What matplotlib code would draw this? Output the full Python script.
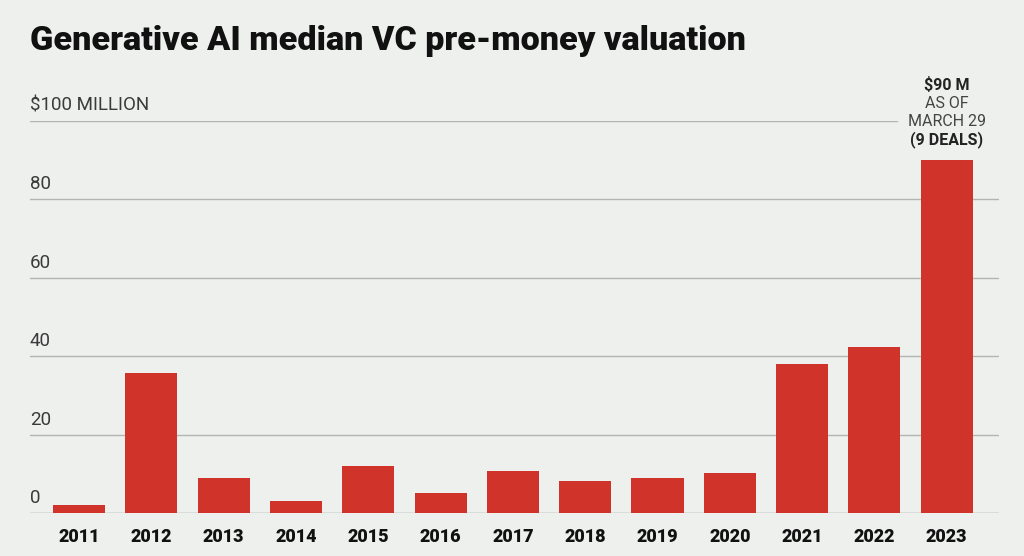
import matplotlib
matplotlib.use('Agg')
import matplotlib.pyplot as plt

# Data (US$ millions)
years = ['2011', '2012', '2013', '2014', '2015', '2016', '2017',
         '2018', '2019', '2020', '2021', '2022', '2023']
valuations = [2.0, 35.6, 9.0, 3.0, 12.0, 5.0, 10.7, 8.2, 9.0, 10.1, 37.9, 42.4, 90.0]
y_ticks = [0, 20, 40, 60, 80, 100]
y_tick_labels = ['0', '20', '40', '60', '80', '$100 MILLION']

BG = '#eef0ee'
RED = '#cf3329'
GRID = '#b3b5b3'

fig = plt.figure(figsize=(10.24, 5.56), dpi=100, facecolor=BG)
ax = fig.add_axes([30 / 1024, 43 / 556, 969 / 1024, 392.5 / 556])
ax.set_facecolor(BG)

x = list(range(len(years)))
ax.bar(x, valuations, width=0.72, color=RED, zorder=3)

ax.set_xlim(-0.678, 12.723)
ax.set_ylim(0, 100)

# gridlines (the top one stops short of the annotation)
for v in y_ticks:
    xmax = (897 - 30) / 969 if v == 100 else 1.0
    col = '#8a8c8a' if v == 0 else GRID
    ax.axhline(v, xmin=0, xmax=xmax, color=col, linewidth=1.0, zorder=1)

for v, lab in zip(y_ticks, y_tick_labels):
    ax.annotate(lab, xy=(0, v), xycoords=('axes fraction', 'data'),
                xytext=(0, 4), textcoords='offset points',
                ha='left', va='bottom', fontsize=13.5, color='#3a3a3a',
                family='Roboto', fontweight='normal')

for s in ax.spines.values():
    s.set_visible(False)
ax.set_yticks([])
ax.set_xticks(x)
ax.set_xticklabels(years, fontsize=13, fontweight='heavy', family='Roboto',
                   color='#111111')
ax.tick_params(axis='x', length=0, pad=11)

# annotation above the 2023 bar
notes = [('$90 M', 'bold', '#222222'),
         ('AS OF', 'normal', '#444444'),
         ('MARCH 29', 'normal', '#444444'),
         ('(9 DEALS)', 'bold', '#222222')]
offsets = [53.5, 40.5, 27.5, 14.5]
for (txt, w, c), off in zip(notes, offsets):
    ax.annotate(txt, xy=(12, valuations[-1]), xytext=(0, off),
                textcoords='offset points', ha='center', va='center',
                fontsize=11.5, fontweight=w, color=c, family='Roboto',
                annotation_clip=False)

fig.text(30 / 1024, 1 - 50 / 556, 'Generative AI median VC pre-money valuation',
         ha='left', va='baseline', fontsize=24.6, fontweight='heavy',
         family='Roboto', color='#111111')

fig.savefig('out.png', dpi=100, facecolor=BG)
